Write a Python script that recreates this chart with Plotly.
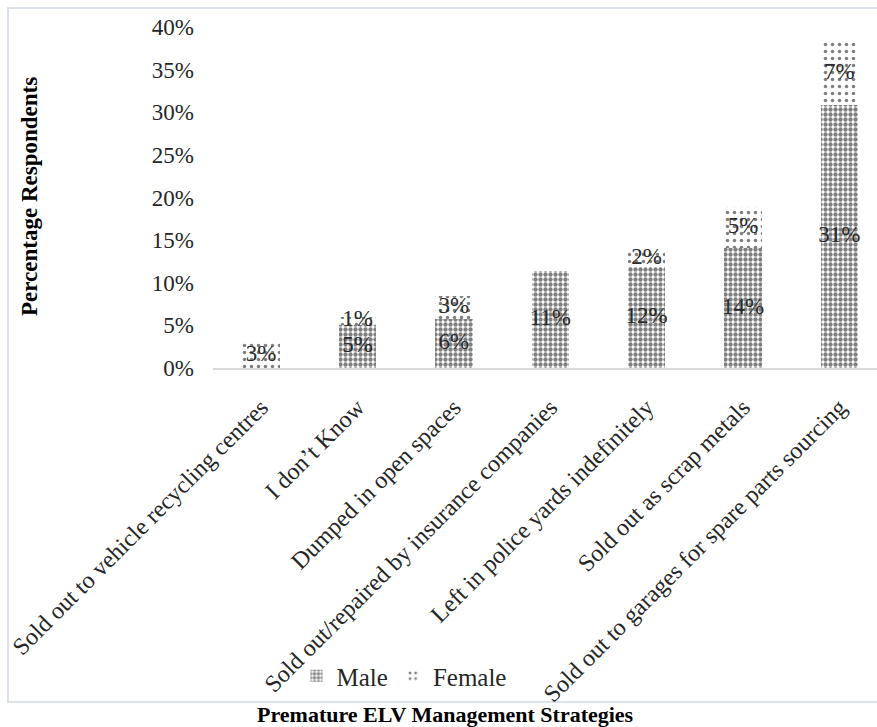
import plotly.graph_objects as go

# Survey results: share of respondents per premature end-of-life vehicle strategy
categories = [
    "Sold out to vehicle recycling centres",
    "I don\u2019t Know",
    "Dumped in open spaces",
    "Sold out/repaired by insurance companies",
    "Left in police yards indefinitely",
    "Sold out as scrap metals",
    "Sold out to garages for spare parts sourcing",
]
male = [0.0, 5.1, 5.8, 11.4, 11.9, 14.1, 30.9]
female = [3.0, 0.9, 2.6, 0.0, 2.0, 4.8, 7.4]
y_ticks = [0, 5, 10, 15, 20, 25, 30, 35, 40]
y_tick_labels = [f"{t}%" for t in y_ticks]

W, H = 877, 727
PL, PR, PT, PB = 213, 877, 27, 368  # plot area in pixels


def px_x(px):
    return (px - PL) / (PR - PL)


def px_y(py):
    return (PB - py) / (PB - PT)


FONT = "Liberation Serif, Times New Roman, serif"

fig = go.Figure()

fig.add_trace(go.Bar(
    name="Male", x=categories, y=male,
    marker=dict(color="white", line=dict(width=0),
                pattern=dict(shape=".", size=5, solidity=0.6,
                             fgcolor="black", bgcolor="white", fillmode="overlay")),
    width=0.39,
))
fig.add_trace(go.Bar(
    name="Female", x=categories, y=female,
    marker=dict(color="white", line=dict(width=0),
                pattern=dict(shape=".", size=7, solidity=0.2,
                             fgcolor="black", bgcolor="white", fillmode="overlay")),
    width=0.39,
))

# Value labels centred on each stacked segment
male_mid = [m / 2 for m in male]
female_mid = [m + f / 2 for m, f in zip(male, female)]
male_txt = [f"{v:.0f}%" if v > 0 else "" for v in male]
female_txt = [f"{v:.0f}%" if v > 0 else "" for v in female]
for mids, txt in ((male_mid, male_txt), (female_mid, female_txt)):
    fig.add_trace(go.Scatter(
        x=categories, y=mids, text=txt, mode="text",
        textfont=dict(family=FONT, size=23, color="#2a2a2a"),
        showlegend=False, hoverinfo="skip", cliponaxis=False,
    ))

fig.update_layout(
    width=W, height=H,
    margin=dict(l=PL, r=W - PR, t=PT, b=H - PB),
    barmode="stack",
    paper_bgcolor="white", plot_bgcolor="white",
    font=dict(family=FONT, size=23, color="#262626"),
    showlegend=True,
    legend=dict(orientation="h", x=px_x(404), y=px_y(676),
                xanchor="center", yanchor="middle",
                bgcolor="rgba(0,0,0,0)",
                font=dict(family=FONT, size=25, color="#262626"),
                itemwidth=30, traceorder="normal"),
    xaxis=dict(type="category", range=[-0.5, 6.39], tickangle=-45,
               showline=True, linecolor="#d9d9d9", linewidth=1.5,
               ticks="", showgrid=False, ticklabelstandoff=14,
               tickfont=dict(family=FONT, size=24, color="#262626")),
    yaxis=dict(range=[0, 40], tickvals=y_ticks, ticktext=y_tick_labels,
               showgrid=False, zeroline=False, showline=False, ticks="",
               ticklabelstandoff=18,
               tickfont=dict(family=FONT, size=23, color="#262626")),
    shapes=[dict(type="rect", xref="paper", yref="paper",
                 x0=px_x(8), x1=px_x(890), y0=px_y(702), y1=px_y(8),
                 line=dict(color="#dde3ea", width=2), layer="below")],
    annotations=[
        dict(text="<b>Percentage Respondents</b>", textangle=-90,
             xref="paper", yref="paper", x=px_x(29), y=px_y(197),
             showarrow=False, xanchor="center", yanchor="middle",
             font=dict(family=FONT, size=23, color="#000000")),
        dict(text="<b>Premature ELV Management Strategies</b>",
             xref="paper", yref="paper", x=px_x(445), y=px_y(714),
             showarrow=False, xanchor="center", yanchor="middle",
             font=dict(family=FONT, size=22, color="#000000")),
    ],
)

fig.write_html("out.html")
